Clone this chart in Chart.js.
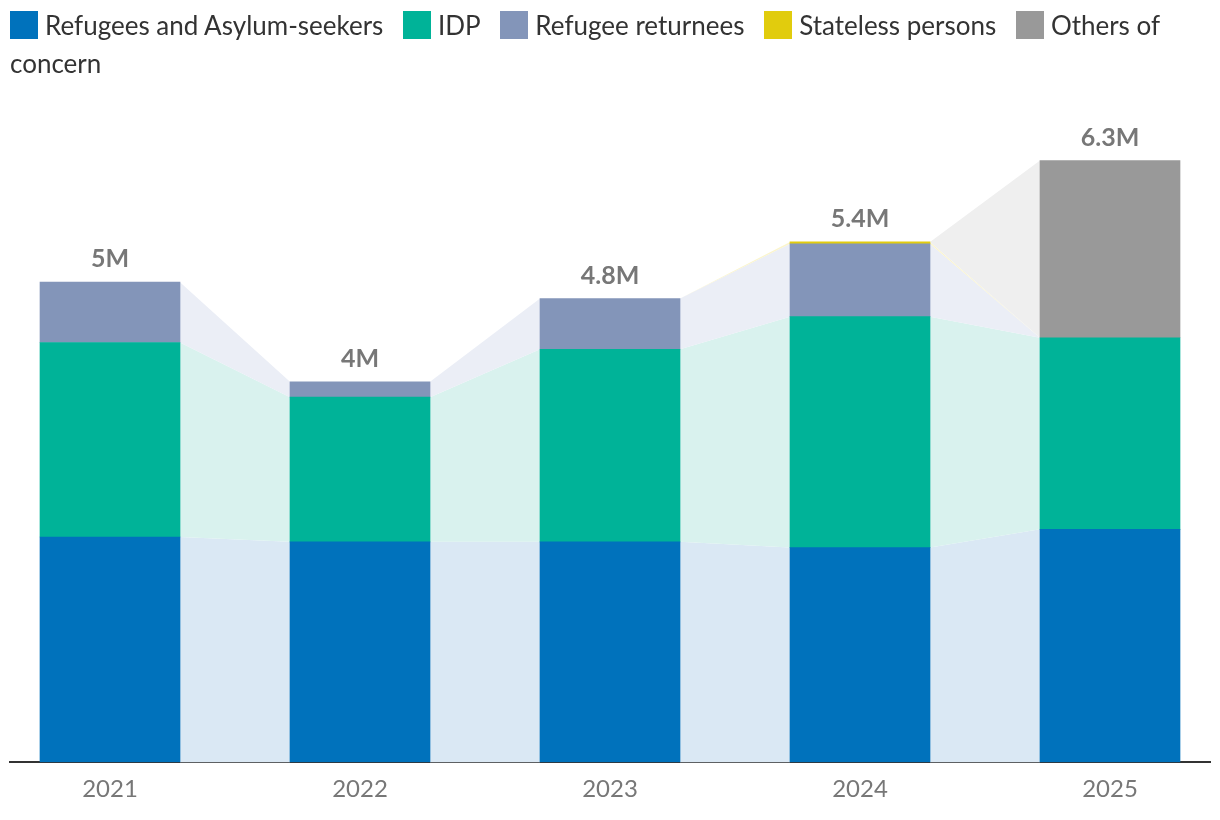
<!DOCTYPE html>
<html>
<head>
<meta charset="utf-8">
<script src="https://cdn.jsdelivr.net/npm/chart.js@4/dist/chart.umd.min.js"></script>
<style>
    html, body { margin: 0; padding: 0; background: #fff; }
    #wrap { position: relative; width: 1220px; height: 820px; }
    #chart { position: absolute; left: 0; top: 0; }
    #legend {
        position: absolute; left: 10px; top: 6px; width: 1200px;
        font-family: Lato, sans-serif; font-size: 26px; line-height: 38px; color: #333;
    }
    #legend .item { margin-right: 13px; }
    #legend .sw {
        display: inline-block; width: 28px; height: 28px;
        margin-right: 7px; vertical-align: -4px;
    }
</style>
</head>
<body>
<div id="wrap">
    <canvas id="chart" width="1220" height="820"></canvas>
    <div id="legend"></div>
</div>
<script>
// Data (millions)
const years = ['2021', '2022', '2023', '2024', '2025'];
const refugees = [2.35, 2.30, 2.30, 2.24, 2.43];
const idp = [2.03, 1.51, 2.01, 2.41, 2.00];
const returnees = [0.63, 0.16, 0.53, 0.76, 0];
const stateless = [0, 0, 0, 0.02, 0];
const others = [0, 0, 0, 0, 1.85];

const seriesNames = ['Refugees and Asylum-seekers', 'IDP', 'Refugee returnees', 'Stateless persons', 'Others of concern'];
const seriesColors = ['#0072BC', '#00B398', '#8395B9', '#E1CC0D', '#999999'];
const areaColors = ['#DAE8F4', '#D9F2EE', '#EBEEF6', '#FBF5CC', '#EFEFEF'];
const seriesData = [refugees, idp, returnees, stateless, others];

// HTML legend (wraps like the original)
const legendEl = document.getElementById('legend');
legendEl.innerHTML = seriesNames.map((name, i) =>
    `<span class="item"><span class="sw" style="background:${seriesColors[i]}"></span>${name}</span>`
).join(' ');

// Connecting bands between neighbouring bars + total labels
const bandsPlugin = {
    id: 'bands',
    beforeDatasetsDraw(chart) {
        const ctx = chart.ctx;
        const y = chart.scales.y;
        const bars = chart.getDatasetMeta(0).data; // x positions / widths
        const cum = years.map(() => 0);
        ctx.save();
        seriesData.forEach((vals, s) => {
            ctx.fillStyle = areaColors[s];
            for (let i = 0; i < years.length - 1; i++) {
                const a = bars[i], b = bars[i + 1];
                const x0 = a.x + a.width / 2;
                const x1 = b.x - b.width / 2;
                ctx.beginPath();
                ctx.moveTo(x0, y.getPixelForValue(cum[i] + vals[i]));
                ctx.lineTo(x1, y.getPixelForValue(cum[i + 1] + vals[i + 1]));
                ctx.lineTo(x1, y.getPixelForValue(cum[i + 1]));
                ctx.lineTo(x0, y.getPixelForValue(cum[i]));
                ctx.closePath();
                ctx.fill();
            }
            vals.forEach((v, i) => { cum[i] += v; });
        });
        ctx.restore();
    },
    afterDatasetsDraw(chart) {
        const ctx = chart.ctx;
        const y = chart.scales.y;
        const meta = chart.getDatasetMeta(0);
        ctx.save();
        ctx.font = 'bold 25px Lato';
        ctx.fillStyle = '#777';
        ctx.textAlign = 'center';
        ctx.textBaseline = 'middle';
        years.forEach((_, i) => {
            const total = seriesData.reduce((sum, vals) => sum + vals[i], 0);
            const label = (Math.round(total * 10) / 10) + 'M';
            ctx.fillText(label, meta.data[i].x, y.getPixelForValue(total) - 23);
        });
        ctx.restore();
    },
};

const ctx = document.getElementById('chart').getContext('2d');
new Chart(ctx, {
    type: 'bar',
    data: {
        datasets: seriesData.map((vals, s) => ({
            label: seriesNames[s],
            // zero segments are left out so no hairline is drawn
            data: vals.map((v, i) => ({ x: i, y: v === 0 ? null : v })),
            backgroundColor: seriesColors[s],
            borderWidth: 0,
            barThickness: 140,
        })),
    },
    options: {
        responsive: false,
        animation: false,
        layout: { padding: { left: 10, right: 10, top: 91.5, bottom: 3 } },
        plugins: {
            legend: { display: false },
            tooltip: { enabled: false },
        },
        scales: {
            x: {
                type: 'linear',
                stacked: true,
                offset: false,
                min: -0.4,
                max: 4.4,
                afterBuildTicks: (axis) => {
                    axis.ticks = years.map((_, i) => ({ value: i }));
                    axis.min = -0.4;
                    axis.max = 4.4;
                },
                grid: { display: false, drawTicks: false },
                border: { color: '#333', width: 2 },
                ticks: {
                    color: '#777',
                    font: { family: 'Lato', size: 24 },
                    padding: 13,
                    autoSkip: false,
                    maxRotation: 0,
                    callback: (v) => years[v],
                },
            },
            y: {
                stacked: true,
                display: false,
                min: 0,
                max: 7,
            },
        },
    },
    plugins: [bandsPlugin],
});
</script>
</body>
</html>
